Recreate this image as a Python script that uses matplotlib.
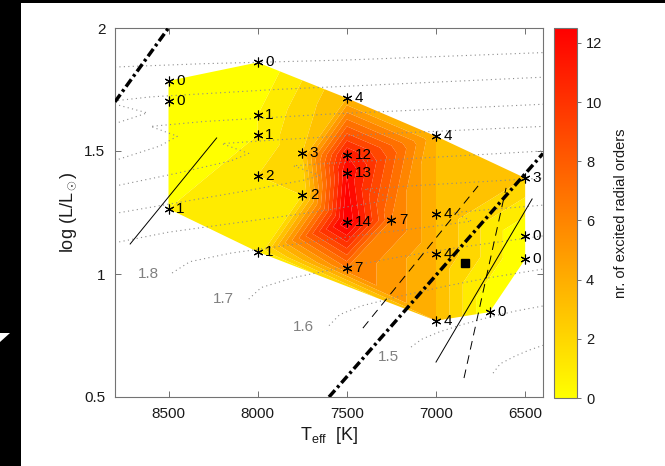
import numpy as np
import matplotlib
matplotlib.use("Agg")
import matplotlib.pyplot as plt
import matplotlib.tri as mtri
from matplotlib.colors import Normalize
from matplotlib.cm import ScalarMappable
from matplotlib.patches import Rectangle, Polygon

plt.rcParams['font.family'] = ['Liberation Sans', 'DejaVu Sans']
plt.rcParams['mathtext.fontset'] = 'custom'
plt.rcParams['mathtext.rm'] = 'Liberation Sans'
plt.rcParams['mathtext.it'] = 'Liberation Sans:italic'

# ---- computed models: effective temperature, luminosity, excited radial orders
teff_models = [8500, 8500, 8500, 8000, 8000, 8000, 8000, 8000, 7750, 7750,
               7500, 7500, 7500, 7500, 7250, 7500, 7000, 7000, 7000, 7000,
               6700, 6500, 6500, 6500]
logl_models = [1.785, 1.705, 1.265, 1.86, 1.645, 1.565, 1.40, 1.09, 1.49, 1.32,
               1.715, 1.485, 1.41, 1.21, 1.22, 1.025, 1.56, 1.245, 1.08, 0.81,
               0.845, 1.39, 1.155, 1.06]
n_orders = [0, 0, 1, 0, 1, 1, 2, 1, 3, 2,
            4, 12, 13, 14, 7, 7, 4, 4, 4, 4,
            0, 3, 0, 0]

# observed star
star_teff = [6840]
star_logl = [1.045]

# ---- evolutionary tracks (Teff, log L)
track_14_t = [6680, 6640, 6560, 6480, 6400]
track_14_l = [0.597, 0.635, 0.665, 0.69, 0.71]
track_15_t = [7140, 7080, 6980, 6850, 6700, 6550, 6400]
track_15_l = [0.703, 0.735, 0.765, 0.795, 0.825, 0.85, 0.87]
track_16_t = [7600, 7540, 7420, 7200, 6950, 6700, 6400]
track_16_l = [0.79, 0.835, 0.87, 0.91, 0.95, 0.985, 1.02]
track_17_t = [8050, 7980, 7800, 7500, 7200, 6900, 6600, 6400]
track_17_l = [0.898, 0.945, 0.985, 1.03, 1.07, 1.105, 1.135, 1.155]
track_18_t = [8480, 8380, 8150, 7800, 7400, 7000, 6800, 6900, 6650, 6400]
track_18_l = [1.004, 1.05, 1.085, 1.12, 1.16, 1.195, 1.215, 1.25, 1.265, 1.28]
track_19_t = [8850, 8500, 8100, 7700, 7350, 7250, 7400, 7100, 6750, 6400]
track_19_l = [1.12, 1.17, 1.21, 1.25, 1.29, 1.31, 1.345, 1.36, 1.375, 1.39]
track_20_t = [8850, 8450, 8050, 7750, 7650, 7800, 7500, 7000, 6400]
track_20_l = [1.24, 1.29, 1.34, 1.38, 1.40, 1.44, 1.455, 1.475, 1.50]
track_21_t = [8850, 8450, 8150, 8050, 8200, 7900, 7300, 6400]
track_21_l = [1.35, 1.41, 1.46, 1.49, 1.53, 1.545, 1.57, 1.60]
track_22_t = [8850, 8550, 8450, 8600, 8300, 7600, 6400]
track_22_l = [1.45, 1.52, 1.56, 1.60, 1.62, 1.65, 1.69]
track_23_t = [8850, 8700, 8620, 8850, 8600, 7900, 6400]
track_23_l = [1.60, 1.635, 1.655, 1.70, 1.72, 1.75, 1.80]
track_24_t = [8850, 8300, 7500, 6400]
track_24_l = [1.84, 1.855, 1.87, 1.90]
tracks = [(track_14_t, track_14_l), (track_15_t, track_15_l), (track_16_t, track_16_l),
          (track_17_t, track_17_l), (track_18_t, track_18_l), (track_19_t, track_19_l),
          (track_20_t, track_20_l), (track_21_t, track_21_l), (track_22_t, track_22_l),
          (track_23_t, track_23_l), (track_24_t, track_24_l)]

mass_labels = ['1.8', '1.7', '1.6', '1.5']
mass_label_teff = [8610, 8195, 7745, 7265]
mass_label_logl = [1.0, 0.897, 0.785, 0.663]

# instability strip edges (thick dash-dot)
blue_edge_t = [8800, 8500]
blue_edge_l = [1.70, 2.00]
red_edge_t = [7600, 6400]
red_edge_l = [0.50, 1.49]
# thin solid lines
solid_1_t = [8715, 8230]
solid_1_l = [1.122, 1.553]
solid_2_t = [7000, 6461]
solid_2_l = [0.642, 1.305]
# thin dashed lines
dashed_1_t = [7410, 6764]
dashed_1_l = [0.780, 1.358]
dashed_2_t = [6843, 6607]
dashed_2_l = [0.577, 1.350]

levels = np.arange(0, 15, 1)
vmax = 12.5

W, H = 665, 466
fig = plt.figure(figsize=(W / 100, H / 100), dpi=100)
fig.patch.set_facecolor('white')

# dark frame pieces on the canvas
fig.patches.append(Rectangle((0, 0), 21 / W, 1, transform=fig.transFigure,
                             facecolor='black', edgecolor='none', zorder=-5))
fig.patches.append(Rectangle((0, 1 - 3 / H), 1, 3 / H, transform=fig.transFigure,
                             facecolor='black', edgecolor='none', zorder=-5))
fig.patches.append(Polygon([(0, 1 - 333 / H), (10 / W, 1 - 333 / H), (0, 1 - 342 / H)],
                           closed=True, transform=fig.transFigure,
                           facecolor='white', edgecolor='none', zorder=-4))

ax = fig.add_axes([115 / W, 69 / H, 428 / W, 369 / H])
cax = fig.add_axes([554 / W, 68 / H, 23 / W, 370 / H])

cmap = plt.get_cmap('autumn_r')
norm = Normalize(vmin=0, vmax=vmax)

# interpolate the number of excited orders over the model grid
tx = np.array(teff_models, float)
ty = np.array(logl_models, float)
tri_scaled = mtri.Triangulation(tx / 1400.0, ty)
tri = mtri.Triangulation(tx, ty, triangles=tri_scaled.triangles)
band_colors = [cmap(norm(lv)) for lv in levels[:-1]]
ax.tricontourf(tri, np.array(n_orders, float), levels=levels, colors=band_colors,
               zorder=1, antialiased=True)

for tt, tl in tracks:
    ax.plot(tt, tl, color='0.55', lw=0.8, ls=(0, (1, 3)), zorder=2)
for lab, lt, ll in zip(mass_labels, mass_label_teff, mass_label_logl):
    ax.text(lt, ll, lab, color='0.5', fontsize=11, ha='center', va='center', zorder=3)

ax.plot(blue_edge_t, blue_edge_l, color='black', lw=2.5, ls=(0, (2.6, 1.0, 0.8, 1.0)), zorder=4)
ax.plot(red_edge_t, red_edge_l, color='black', lw=2.5, ls=(0, (2.6, 1.0, 0.8, 1.0)), zorder=4)
ax.plot(solid_1_t, solid_1_l, color='black', lw=0.7, zorder=4)
ax.plot(solid_2_t, solid_2_l, color='black', lw=0.7, zorder=4)
ax.plot(dashed_1_t, dashed_1_l, color='black', lw=0.7, ls=(0, (9, 6)), zorder=4)
ax.plot(dashed_2_t, dashed_2_l, color='black', lw=0.7, ls=(0, (9, 6)), zorder=4)

ax.plot(teff_models, logl_models, ls='none', marker=(6, 2, 0), ms=7, mew=0.8,
        color='black', zorder=5)
for t, l, n in zip(teff_models, logl_models, n_orders):
    ax.annotate(str(n), (t, l), xytext=(5.5, 0), textcoords='offset points',
                fontsize=11, va='center', ha='left', color='black', zorder=6)
ax.plot(star_teff, star_logl, ls='none', marker='s', ms=5.5, color='black', zorder=6)

ax.set_xlim(8800, 6400)
ax.set_ylim(0.5, 2.0)
ax.set_xticks([8500, 8000, 7500, 7000, 6500])
ax.set_yticks([0.5, 1.0, 1.5, 2.0])
ax.set_yticklabels(['0.5', '1', '1.5', '2'])
ax.tick_params(direction='in', top=True, right=True, length=4, width=0.6,
               color='0.35', labelsize=11, labelcolor='0.1', pad=7)
for sp in ax.spines.values():
    sp.set_color('0.45')
    sp.set_linewidth(0.8)
ax.set_xlabel(r'T$_{\rm eff}$  [K]', fontsize=13, color='0.1', labelpad=3)
ax.set_ylabel(r'log (L/L$_\odot$)', fontsize=13, color='0.1', labelpad=4)

sm = ScalarMappable(norm=norm, cmap=cmap)
cb = fig.colorbar(sm, cax=cax)
cb.set_ticks([0, 2, 4, 6, 8, 10, 12])
cb.ax.tick_params(labelsize=10.5, length=3, width=0.6, color='0.35', labelcolor='0.1')
cb.outline.set_edgecolor('0.45')
cb.outline.set_linewidth(0.8)
cb.set_label('nr. of excited radial orders', fontsize=10.5, color='0.1', labelpad=8)

fig.savefig('out.png', dpi=100, facecolor=fig.get_facecolor())
